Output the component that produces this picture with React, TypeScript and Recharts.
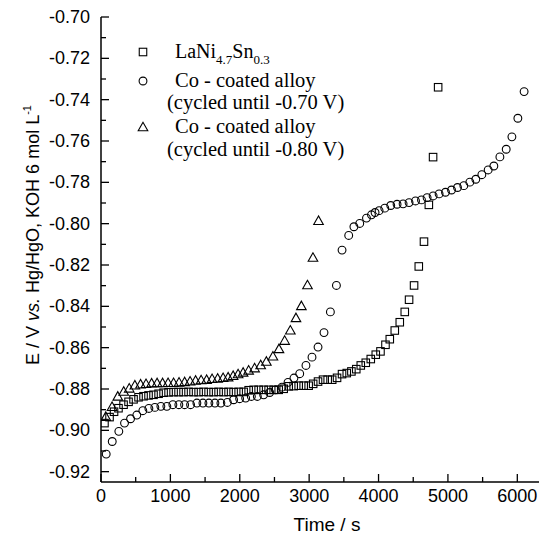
import React from 'react';
import { ScatterChart, Scatter, XAxis, YAxis } from 'recharts';

// Time / s ticks (major every 1000, minor every 500)
const xTicks = [0, 500, 1000, 1500, 2000, 2500, 3000, 3500, 4000, 4500, 5000, 5500, 6000, 6500];
const xMajor = [0, 1000, 2000, 3000, 4000, 5000, 6000];
// Potential ticks (major every 0.02, minor every 0.01)
const yTicks = [-0.92, -0.91, -0.9, -0.89, -0.88, -0.87, -0.86, -0.85, -0.84, -0.83, -0.82, -0.81, -0.8, -0.79, -0.78, -0.77, -0.76, -0.75, -0.74, -0.73, -0.72, -0.71, -0.7];
const yMajorLabels = ['-0.92', '-0.90', '-0.88', '-0.86', '-0.84', '-0.82', '-0.80', '-0.78', '-0.76', '-0.74', '-0.72', '-0.70'];

// LaNi4.7Sn0.3  [time s, E V]
const laNiSn: [number, number][] = [
  [50, -0.8965], [123, -0.8936], [188, -0.891], [252, -0.8893], [325, -0.8876], [397, -0.8862], [469, -0.885], [541, -0.884],
  [613, -0.8835], [685, -0.8831], [757, -0.8828], [830, -0.8823], [902, -0.8818], [974, -0.8816], [1046, -0.8815],
  [1118, -0.8815], [1190, -0.8815], [1262, -0.8814], [1334, -0.8815], [1407, -0.8815], [1479, -0.8814], [1551, -0.8815],
  [1623, -0.8815], [1695, -0.8814], [1767, -0.8815], [1839, -0.8814], [1911, -0.8815], [1984, -0.8814], [2056, -0.8814],
  [2128, -0.8806], [2200, -0.8804], [2272, -0.8804], [2344, -0.8804], [2416, -0.8804], [2489, -0.8804], [2561, -0.8804],
  [2633, -0.8799], [2705, -0.8787], [2777, -0.8786], [2849, -0.8784], [2921, -0.8784], [2993, -0.8784],
  [3058, -0.8775], [3128, -0.8764], [3200, -0.8755], [3267, -0.8755], [3332, -0.8755], [3402, -0.8746],
  [3474, -0.8728], [3542, -0.8723], [3609, -0.8715], [3679, -0.8704], [3744, -0.8686], [3816, -0.8673], [3888, -0.8655],
  [3960, -0.8634], [4028, -0.8618], [4100, -0.8586], [4162, -0.8559], [4234, -0.8517], [4306, -0.8477], [4378, -0.8427],
  [4440, -0.8368], [4512, -0.8299], [4580, -0.8207], [4655, -0.8087], [4725, -0.7909], [4786, -0.7678], [4859, -0.734],
];

// Co-coated alloy (cycled until -0.70 V)
const coated070: [number, number][] = [
  [75, -0.9115], [162, -0.9054], [257, -0.9005], [339, -0.8965], [426, -0.8944], [516, -0.8926], [603, -0.8905],
  [690, -0.8894], [776, -0.8889], [863, -0.8884], [949, -0.8884], [1036, -0.8876], [1122, -0.8876], [1205, -0.8876],
  [1291, -0.8876], [1382, -0.8868], [1469, -0.8868], [1555, -0.8868], [1642, -0.8868], [1728, -0.8868], [1821, -0.8865],
  [1911, -0.8852], [1998, -0.8847], [2085, -0.8844], [2167, -0.8836], [2253, -0.8836], [2344, -0.8828], [2431, -0.8817],
  [2513, -0.8804], [2608, -0.8791], [2695, -0.8768], [2781, -0.8747], [2864, -0.8726], [2954, -0.8686], [3041, -0.8646],
  [3128, -0.8597], [3214, -0.8527], [3306, -0.8427], [3393, -0.8299], [3474, -0.8128], [3570, -0.8057], [3645, -0.8015],
  [3729, -0.7999], [3826, -0.7973], [3898, -0.7957], [3950, -0.7946], [4008, -0.7937], [4090, -0.7925], [4176, -0.7912],
  [4267, -0.7906], [4354, -0.7904], [4440, -0.7898], [4533, -0.789], [4619, -0.7885], [4700, -0.7874], [4787, -0.7866],
  [4873, -0.7856], [4965, -0.7848], [5052, -0.7837], [5138, -0.7825], [5229, -0.7816], [5316, -0.7799], [5402, -0.7785],
  [5489, -0.7763], [5580, -0.774], [5662, -0.7721], [5749, -0.7677], [5840, -0.764], [5922, -0.758], [6008, -0.749],
  [6098, -0.7361],
];

// Co-coated alloy (cycled until -0.80 V)
const coated080: [number, number][] = [
  [69, -0.8934], [159, -0.8886], [242, -0.8836], [327, -0.8812], [407, -0.8797], [488, -0.8782], [570, -0.8777],
  [649, -0.8775], [729, -0.8772], [808, -0.8771], [887, -0.8771], [967, -0.877], [1046, -0.877], [1125, -0.8768],
  [1205, -0.8766], [1284, -0.8763], [1363, -0.8759], [1443, -0.8757], [1522, -0.8755], [1601, -0.8751], [1681, -0.8749],
  [1760, -0.8746], [1832, -0.8743], [1904, -0.8736], [1976, -0.8728], [2048, -0.872], [2128, -0.871], [2214, -0.8699],
  [2301, -0.8684], [2383, -0.8667], [2478, -0.8642], [2565, -0.8606], [2647, -0.8566], [2729, -0.8516], [2810, -0.8456],
  [2888, -0.8398], [2976, -0.8297], [3055, -0.8164], [3135, -0.7986],
];

const toPoints = (arr: [number, number][]) => arr.map(([t, e]) => ({ t, e }));

const SANS = "'Liberation Sans', Arial, sans-serif";
const SERIF = "'Liberation Serif', 'Times New Roman', serif";

const SquareShape = (p: any) => (
  <rect x={p.cx - 3.75} y={p.cy - 3.75} width={7.5} height={7.5} fill="none" stroke="#000" strokeWidth={1.1} />
);
const CircleShape = (p: any) => <circle cx={p.cx} cy={p.cy} r={3.9} fill="none" stroke="#000" strokeWidth={1.1} />;
const TriangleShape = (p: any) => (
  <polygon
    points={`${p.cx},${p.cy - 4.8} ${p.cx - 4.8},${p.cy + 3.7} ${p.cx + 4.8},${p.cy + 3.7}`}
    fill="none"
    stroke="#000"
    strokeWidth={1.1}
  />
);

const YTick = (props: any) => {
  const { x, y, payload } = props;
  const v = payload.value as number;
  const idx = Math.round((v + 0.92) * 100);
  const major = idx % 2 === 0;
  return (
    <g>
      <line x1={x} x2={x + (major ? 8 : 5)} y1={y} y2={y} stroke="#000" strokeWidth={1.3} />
      {major && (
        <text x={x - 11} y={y + 6} textAnchor="end" fontFamily={SANS} fontSize={18} fill="#000">
          {yMajorLabels[idx / 2]}
        </text>
      )}
    </g>
  );
};

const XTick = (props: any) => {
  const { x, y, payload } = props;
  const v = payload.value as number;
  const major = xMajor.includes(v);
  return (
    <g>
      <line x1={x} x2={x} y1={y} y2={y - (major ? 8 : 5)} stroke="#000" strokeWidth={1.3} />
      {major && (
        <text x={x} y={y + 20} textAnchor="middle" fontFamily={SANS} fontSize={18} fill="#000">
          {String(v)}
        </text>
      )}
    </g>
  );
};

const TopTick = (props: any) => {
  const { x, y, payload } = props;
  const major = xMajor.includes(payload.value);
  return <line x1={x} x2={x} y1={y} y2={y + (major ? 8 : 5)} stroke="#000" strokeWidth={1.3} />;
};

export default function App() {
  return (
    <div style={{ position: 'relative', width: 539, height: 532, overflow: 'hidden' }}>
      <ScatterChart width={544} height={532} margin={{ top: 9, right: 0, bottom: 0, left: 0 }}>
        <XAxis
          xAxisId={0}
          type="number"
          dataKey="t"
          domain={[0, 6500]}
          ticks={xTicks}
          tick={<XTick />}
          tickSize={0}
          tickMargin={0}
          height={58}
          axisLine={{ stroke: '#000', strokeWidth: 1.5 }}
          allowDataOverflow
          interval={0}
        />
        <XAxis
          xAxisId="top"
          orientation="top"
          type="number"
          dataKey="t"
          domain={[0, 6500]}
          ticks={xTicks}
          tick={<TopTick />}
          tickSize={0}
          tickMargin={0}
          height={0}
          axisLine={{ stroke: '#000', strokeWidth: 1.5 }}
          allowDataOverflow
          interval={0}
        />
        <YAxis
          type="number"
          dataKey="e"
          domain={[-0.925, -0.7]}
          ticks={yTicks}
          tick={<YTick />}
          tickSize={0}
          tickMargin={0}
          width={93}
          axisLine={{ stroke: '#000', strokeWidth: 1.5 }}
          allowDataOverflow
          interval={0}
        />
        <Scatter data={toPoints(laNiSn)} shape={SquareShape} isAnimationActive={false} />
        <Scatter data={toPoints(coated070)} shape={CircleShape} isAnimationActive={false} />
        <Scatter data={toPoints(coated080)} shape={TriangleShape} isAnimationActive={false} />
      </ScatterChart>
      <svg
        width={539}
        height={532}
        style={{ position: 'absolute', left: 0, top: 0, pointerEvents: 'none' }}
      >
        {/* axis titles */}
        <text
          transform="translate(31,227) rotate(-90)"
          textAnchor="middle"
          fontFamily={SANS}
          fontSize={18}
          fill="#000"
        >
          <tspan>E / V </tspan>
          <tspan fontStyle="italic">vs.</tspan>
          <tspan> Hg/HgO, KOH 6 mol L</tspan>
          <tspan fontSize={11} dy={-8}>-1</tspan>
        </text>
        <text x={319} y={523} textAnchor="middle" fontFamily={SANS} fontSize={19} fill="#000">
          Time / s
        </text>
        {/* legend */}
        <rect x={131.25} y={40.25} width={7.5} height={7.5} fill="none" stroke="#000" strokeWidth={1.1} />
        <text x={167} y={50} fontFamily={SERIF} fontSize={20} fill="#000">
          <tspan>LaNi</tspan>
          <tspan fontSize={13} dy={6}>4.7</tspan>
          <tspan dy={-6}>Sn</tspan>
          <tspan fontSize={13} dy={6}>0.3</tspan>
        </text>
        <circle cx={135} cy={73} r={3.9} fill="none" stroke="#000" strokeWidth={1.1} />
        <text x={167} y={79} fontFamily={SERIF} fontSize={20.5} fill="#000">Co - coated alloy</text>
        <text x={159} y={101} fontFamily={SERIF} fontSize={20.5} fill="#000">(cycled until -0.70 V)</text>
        <polygon points="135,114.3 130.2,122.8 139.8,122.8" fill="none" stroke="#000" strokeWidth={1.1} />
        <text x={167} y={125} fontFamily={SERIF} fontSize={20.5} fill="#000">Co - coated alloy</text>
        <text x={159} y={148} fontFamily={SERIF} fontSize={20.5} fill="#000">(cycled until -0.80 V)</text>
      </svg>
    </div>
  );
}
